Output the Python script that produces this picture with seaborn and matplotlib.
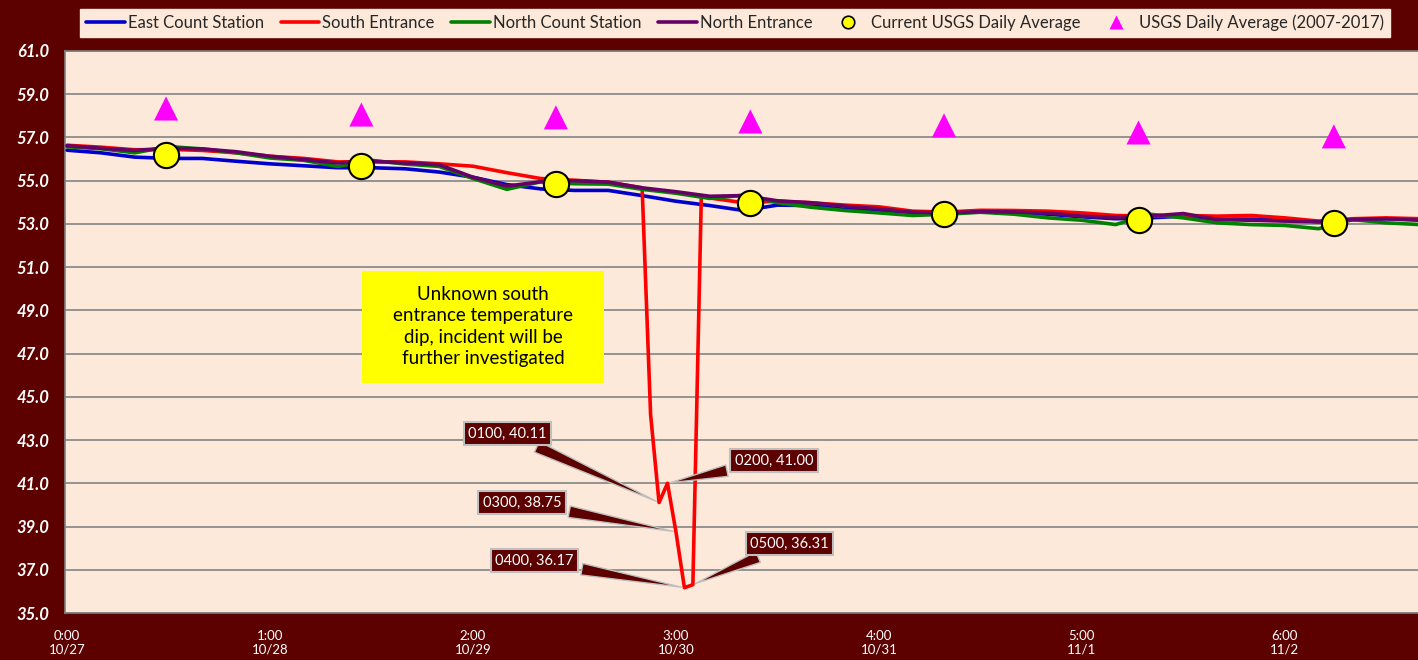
import matplotlib
matplotlib.use("Agg")
import matplotlib.pyplot as plt
import seaborn as sns
from matplotlib.lines import Line2D
from matplotlib.patches import Rectangle

# ---- data (hour index from 0:00 10/27) ----
hours = list(range(0, 161, 4))
east = [56.41, 56.29, 56.09, 56.03, 56.03, 55.90, 55.78, 55.69, 55.60, 55.60,
        55.55, 55.40, 55.16, 54.82, 54.62, 54.55, 54.55, 54.31, 54.05, 53.85,
        53.62, 53.87, 53.85, 53.67, 53.63, 53.48, 53.51, 53.55, 53.52, 53.45,
        53.33, 53.24, 53.28, 53.36, 53.22, 53.22, 53.20, 53.10, 53.20, 53.24,
        53.20]
north_count = [56.57, 56.48, 56.29, 56.58, 56.47, 56.29, 56.05, 55.94, 55.66, 55.94,
               55.77, 55.66, 55.10, 54.60, 54.95, 54.86, 54.84, 54.60, 54.42, 54.18,
               54.33, 53.98, 53.77, 53.62, 53.51, 53.39, 53.45, 53.54, 53.45, 53.28,
               53.17, 52.97, 53.45, 53.28, 53.05, 52.97, 52.93, 52.78, 53.20, 53.05,
               52.97]
north_entrance = [56.62, 56.50, 56.40, 56.50, 56.47, 56.34, 56.13, 55.98, 55.82, 55.90,
                  55.82, 55.74, 55.16, 54.75, 54.95, 55.00, 54.93, 54.67, 54.49, 54.28,
                  54.31, 54.07, 53.98, 53.82, 53.70, 53.54, 53.51, 53.57, 53.55, 53.51,
                  53.36, 53.30, 53.36, 53.48, 53.20, 53.17, 53.13, 53.10, 53.20, 53.24,
                  53.17]
south_hours = list(range(0, 69, 4)) + [69, 70, 71, 72, 73, 74, 75] + list(range(76, 161, 4))
south = [56.64, 56.55, 56.43, 56.45, 56.40, 56.29, 56.13, 56.03, 55.87, 55.87,
         55.87, 55.78, 55.67, 55.37, 55.10, 55.02, 54.93, 54.67,
         44.18, 40.11, 41.00, 38.75, 36.17, 36.31, 54.30,
         54.20, 53.98, 54.05, 53.98, 53.87, 53.79, 53.59, 53.55, 53.63, 53.62,
         53.59, 53.51, 53.39, 53.36, 53.39, 53.36, 53.39, 53.28, 53.13, 53.24,
         53.28, 53.24]

usgs_hours = [11.7, 34.8, 57.8, 80.8, 103.7, 126.7, 149.8]
usgs_current = [56.21, 55.70, 54.87, 53.99, 53.48, 53.16, 53.06]
usgs_hist = [58.34, 58.06, 57.93, 57.74, 57.56, 57.23, 57.05]

tick_hours = [0, 24, 48, 72, 96, 120, 144]
tick_labels = ["0:00\n10/27", "1:00\n10/28", "2:00\n10/29", "3:00\n10/30",
               "4:00\n10/31", "5:00\n11/1", "6:00\n11/2"]

dip_labels = ["0100", "0200", "0300", "0400", "0500"]
dip_hours = [70, 71, 72, 73, 74]
dip_values = [40.11, 41.00, 38.75, 36.17, 36.31]
dip_text_pos = [(52.1, 43.3), (83.6, 42.05), (53.8, 40.1), (55.3, 37.42), (85.4, 38.2)]

# ---- style ----
maroon = "#5c0000"
peach = "#fde9d9"
sns.set_style("white")
plt.rcParams["font.family"] = ["Lato", "DejaVu Sans"]

fig = plt.figure(figsize=(14.18, 6.6), dpi=100, facecolor=maroon)
ax = fig.add_axes([65 / 1418, 47 / 660, 1 - 65 / 1418, 562 / 660])
ax.set_facecolor(peach)

lw = 2.6
sns.lineplot(x=hours, y=east, color="#0000cc", lw=lw, ax=ax, zorder=3)
sns.lineplot(x=south_hours, y=south, color="#ff0000", lw=lw, ax=ax, zorder=3)
sns.lineplot(x=hours, y=north_count, color="#008000", lw=lw, ax=ax, zorder=3)
sns.lineplot(x=hours, y=north_entrance, color="#660066", lw=lw, ax=ax, zorder=3)

sns.scatterplot(x=usgs_hours, y=usgs_current, marker="o", s=330, color="#ffff00",
                edgecolor="black", linewidth=1.5, ax=ax, zorder=5)
sns.scatterplot(x=usgs_hours, y=usgs_hist, marker="^", s=300, color="#ff00ff",
                edgecolor="none", ax=ax, zorder=5)

ax.set_xlim(-0.25, 159.75)
ax.set_ylim(35, 61)
ax.set_yticks(range(35, 62, 2))
ax.set_yticklabels([f"{v:.1f}" for v in range(35, 62, 2)], color="white",
                   fontsize=12, fontweight="bold", fontstyle="italic")
ax.set_xticks(tick_hours)
ax.set_xticklabels(tick_labels, color="white", fontsize=9.5)
ax.tick_params(axis="y", length=0, pad=11)
ax.tick_params(axis="x", length=0, pad=12)
ax.grid(axis="y", color="#8c8c8c", lw=1.3, zorder=1)
ax.set_axisbelow(True)
for side in ["left", "top", "bottom"]:
    ax.spines[side].set_color("#808080")
    ax.spines[side].set_linewidth(1.2)
ax.spines["right"].set_visible(False)

# note box
ax.add_patch(Rectangle((34.9, 45.66), 28.6, 5.18, facecolor="#ffff00",
                       edgecolor="none", zorder=6))
ax.text(49.2, 48.25, "Unknown south\nentrance temperature\ndip, incident will be\nfurther investigated",
        ha="center", va="center", fontsize=13.5, color="black", linespacing=1.3, zorder=7)

# dip callouts
for lab, hx, val, pos in zip(dip_labels, dip_hours, dip_values, dip_text_pos):
    ax.annotate(f"{lab}, {val:.2f}", xy=(hx, val), xytext=pos,
                ha="center", va="center", color="white", fontsize=10.5, zorder=8,
                bbox=dict(boxstyle="square,pad=0.3", fc=maroon, ec="#bfbfbf", lw=1.5),
                arrowprops=dict(arrowstyle="wedge,tail_width=0.8,shrink_factor=0.5",
                                fc=maroon, ec="#bfbfbf", lw=1))

# legend
handles = [
    Line2D([], [], color="#0000cc", lw=2.6),
    Line2D([], [], color="#ff0000", lw=2.6),
    Line2D([], [], color="#008000", lw=2.6),
    Line2D([], [], color="#660066", lw=2.6),
    Line2D([], [], ls="none", marker="o", ms=9, mfc="#ffff00", mec="black", mew=1.2),
    Line2D([], [], ls="none", marker="^", ms=10, mfc="#ff00ff", mec="none"),
]
labels = ["East Count Station", "South Entrance", "North Count Station", "North Entrance",
          "Current USGS Daily Average", "USGS Daily Average (2007-2017)"]
leg = fig.legend(handles, labels, loc="center", ncol=6, bbox_to_anchor=(735 / 1418, 637 / 660),
                 bbox_transform=fig.transFigure, fontsize=12, frameon=True, fancybox=False,
                 facecolor=peach, edgecolor=peach, framealpha=1, handlelength=2.3,
                 handletextpad=0.2, columnspacing=1.0, borderpad=0.35)
for t in leg.get_texts():
    t.set_color("#262626")

fig.savefig("out.png", dpi=100, facecolor=maroon)
